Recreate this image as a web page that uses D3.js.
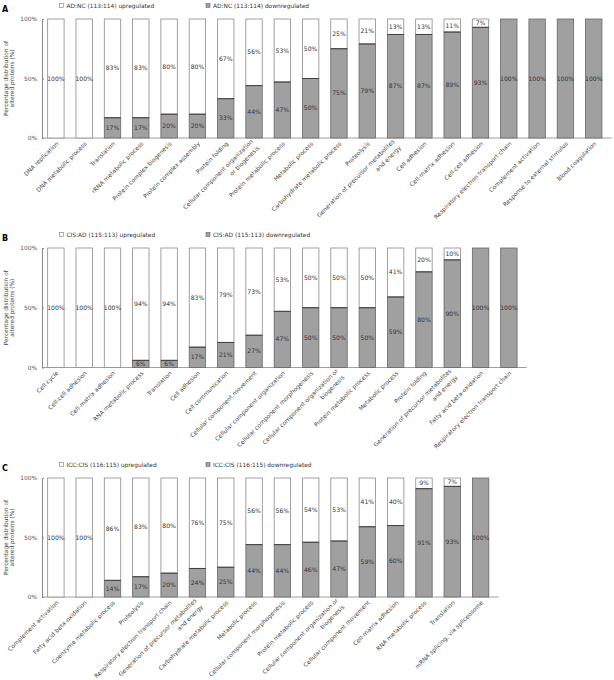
<!DOCTYPE html>
<html><head><meta charset="utf-8">
<script src="https://cdn.jsdelivr.net/npm/d3@7"></script>
<style>body{margin:0;background:#fff}svg{display:block}text{font-family:"DejaVu Sans",Verdana,sans-serif}</style>
</head><body><svg id="c" width="614" height="680"></svg>
<script>
// ---- data ----
const catsA = ["DNA replication","DNA metabolic process","Translation","rRNA metabolic process","Protein complex biogenesis","Protein complex assembly","Protein folding","Cellular component organization\nor biogenesis","Protein metabolic process","Metabolic process","Carbohydrate metabolic process","Proteolysis","Generation of precursor metabolites\nand energy","Cell adhesion","Cell-matrix adhesion","Cell-cell adhesion","Respiratory electron transport chain","Complement activation","Response to external stimulus","Blood coagulation"];
const upA   = [100,100,83,83,80,80,67,56,53,50,25,21,13,13,11,7,0,0,0,0];
const downA = [0,0,17,17,20,20,33,44,47,50,75,79,87,87,89,93,100,100,100,100];
const legendA = ["AD:NC (113:114) upregulated","AD:NC (113:114) downregulated"];

const catsB = ["Cell cycle","Cell-cell adhesion","Cell-matrix adhesion","RNA metabolic process","Translation","Cell adhesion","Cell communication","Cellular component movement","Cellular component organization","Cellular component morphogenesis","Cellular component organization or\nbiogenesis","Protein metabolic process","Metabolic process","Protein folding","Generation of precursor metabolites\nand energy","Fatty acid beta-oxidation","Respiratory electron transport chain"];
const upB   = [100,100,100,94,94,83,79,73,53,50,50,50,41,20,10,0,0];
const downB = [0,0,0,6,6,17,21,27,47,50,50,50,59,80,90,100,100];
const legendB = ["CIS:AD (115:113) upregulated","CIS:AD (115:113) downregulated"];

const catsC = ["Complement activation","Fatty acid beta-oxidation","Coenzyme metabolic process","Proteolysis","Respiratory electron transport chain","Generation of precursor metabolites\nand energy","Carbohydrate metabolic process","Metabolic process","Cellular component morphogenesis","Protein metabolic process","Cellular component organization or\nbiogenesis","Cellular component movement","Cell-matrix adhesion","RNA metabolic process","Translation","mRNA splicing, via spliceosome"];
const upC   = [100,100,86,83,80,76,75,56,56,54,53,41,40,9,7,0];
const downC = [0,0,14,17,20,24,25,44,44,46,47,59,60,91,93,100];
const legendC = ["ICC:CIS (116:115) upregulated","ICC:CIS (116:115) downregulated"];

const panelLetters = ["A","B","C"];
const yTicks = [0,50,100];
const yTitle = ["Percentage distribution of","altered proteins (%)"];

// ---- layout ----
const svg = d3.select("#c");
const GREY = "#a0a0a0";
const panels = [
  {letter:panelLetters[0], cats:catsA, up:upA, down:downA, legend:legendA, top:19, bottom:138, ly:6},
  {letter:panelLetters[1], cats:catsB, up:upB, down:downB, legend:legendB, top:248, bottom:367.5, ly:235},
  {letter:panelLetters[2], cats:catsC, up:upC, down:downC, legend:legendC, top:478, bottom:597, ly:465}
];
const left = 42, step = 28.28;

panels.forEach(p => {
  const g = svg.append("g");
  const n = p.cats.length;
  const x = d3.scaleBand().domain(p.cats).range([left, left + n*step]).paddingInner(0.42).paddingOuter(0.2);
  const y = d3.scaleLinear().domain([0,100]).range([p.bottom, p.top]);
  const rows = p.cats.map((c,i)=>({c, up:p.up[i], down:p.down[i]}));

  // panel letter
  g.append("text").attr("x",2).attr("y",p.ly+5.5).attr("font-size",8).attr("font-weight","bold").text(p.letter);
  // legend
  g.append("rect").attr("x",59.5).attr("y",p.ly-2.5).attr("width",4).attr("height",4).attr("fill","#fff").attr("stroke","#777").attr("stroke-width",0.6);
  g.append("text").attr("x",66.5).attr("y",p.ly+2).attr("font-size",5.9).attr("fill","#333").text(p.legend[0]);
  g.append("rect").attr("x",206).attr("y",p.ly-2.5).attr("width",4).attr("height",4).attr("fill",GREY).attr("stroke","#666").attr("stroke-width",0.6);
  g.append("text").attr("x",213).attr("y",p.ly+2).attr("font-size",5.9).attr("fill","#333").text(p.legend[1]);

  // y axis
  const ya = g.append("g").attr("transform",`translate(${left},0)`)
    .call(d3.axisLeft(y).tickValues(yTicks).tickFormat(d=>d+"%").tickSizeInner(2).tickSizeOuter(0).tickPadding(3));
  ya.select(".domain").attr("stroke","#888");
  ya.selectAll(".tick line").attr("stroke","#888").attr("x2",2);
  ya.selectAll(".tick text").attr("font-size",5.9).attr("fill","#555").attr("font-family","DejaVu Sans");

  // y title
  const cy = (p.top+p.bottom)/2;
  yTitle.forEach((t,k)=>{
    g.append("text").attr("transform",`translate(${7.5+k*6.5},${cy}) rotate(-90)`).attr("text-anchor","middle")
      .attr("font-size",5.8).attr("fill","#444").text(t);
  });

  // x axis line
  g.append("line").attr("x1",left).attr("x2",x.range()[1]+4).attr("y1",p.bottom).attr("y2",p.bottom).attr("stroke","#888").attr("stroke-width",0.8);

  // bars
  const bw = x.bandwidth();
  rows.forEach(r=>{
    if (r.up>0) g.append("rect").attr("x",x(r.c)).attr("y",y(100)).attr("width",bw).attr("height",y(r.down)-y(100))
      .attr("fill","#fff").attr("stroke","#8a8a8a").attr("stroke-width",0.8);
    if (r.down>0) g.append("rect").attr("x",x(r.c)).attr("y",y(r.down)).attr("width",bw).attr("height",y(0)-y(r.down))
      .attr("fill",GREY).attr("stroke","#666").attr("stroke-width",0.8);
    if (r.up>0 && r.down>0) g.append("line").attr("x1",x(r.c)).attr("x2",x(r.c)+bw).attr("y1",y(r.down)).attr("y2",y(r.down)).attr("stroke","#333").attr("stroke-width",0.8);
    const cx = x(r.c)+bw/2;
    if (r.up>0) g.append("text").attr("x",cx).attr("y",(y(100)+y(r.down))/2+2).attr("text-anchor","middle").attr("font-size",6.1).attr("fill","#333").text(r.up+"%");
    if (r.down>0) g.append("text").attr("x",cx).attr("y",(y(r.down)+y(0))/2+2).attr("text-anchor","middle").attr("font-size",6.1).attr("fill","#333").text(r.down+"%");
  });

  // category labels
  rows.forEach(r=>{
    const cx = x(r.c)+bw/2;
    const lines = r.c.split("\n");
    const t = g.append("text").attr("transform",`translate(${cx+3},${p.bottom+6}) rotate(-45)`)
      .attr("text-anchor","end").attr("font-size",5.9).attr("fill","#444");
    const off = lines.length===1 ? 0 : -4;
    lines.forEach((l,k)=>{
      t.append("tspan").attr("x",lines.length===1?0:-1).attr("y",off + k*9).text(l);
    });
  });
});
</script></body></html>
